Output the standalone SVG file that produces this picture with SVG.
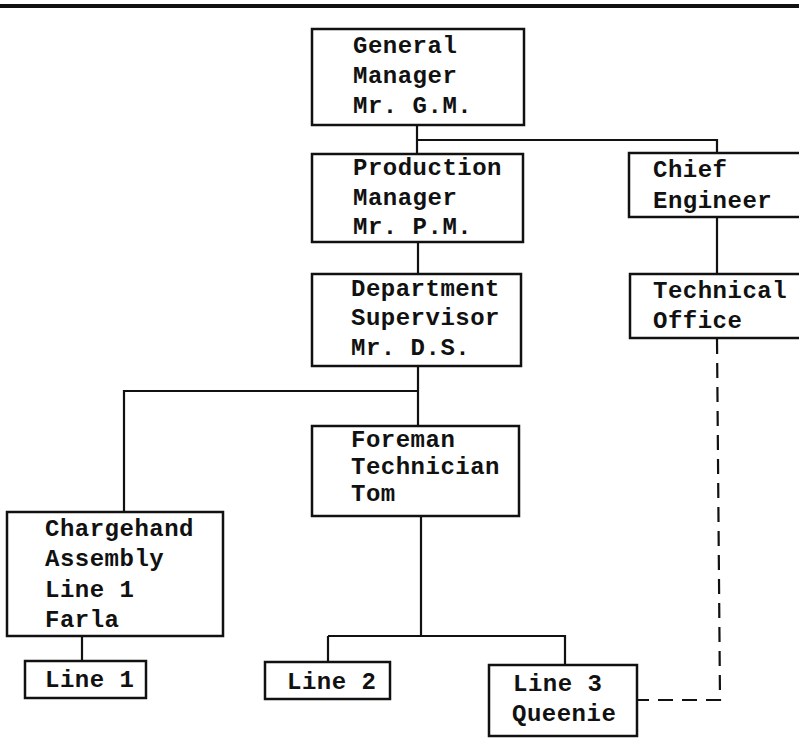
<svg xmlns="http://www.w3.org/2000/svg" width="799" height="756" viewBox="0 0 799 756">
<style>
.box{fill:#fff;stroke:#111;stroke-width:2.5}
.ln{fill:none;stroke:#111;stroke-width:2.2}
.dash{fill:none;stroke:#111;stroke-width:2.2;stroke-dasharray:15 9}
text{font-family:"Liberation Mono","Courier New",monospace;font-weight:bold;font-size:24px;letter-spacing:0.5px;fill:#111}
</style>
<rect x="0" y="4" width="799" height="4" fill="#111"/>
<g id="connectors">
<path class="ln" d="M417 125V154"/>
<path class="ln" d="M417 140H717V153"/>
<path class="ln" d="M717 217V274"/>
<path class="ln" d="M418 242V274"/>
<path class="ln" d="M418 366V426"/>
<path class="ln" d="M418 391H124V512"/>
<path class="ln" d="M421 516V636"/>
<path class="ln" d="M328 636H565V665"/>
<path class="ln" d="M328 636V662"/>
<path class="ln" d="M82 636V661"/>
<path class="dash" d="M717 339L720 700H637"/>
</g>
<g id="gm"><rect class="box" x="312" y="29" width="212" height="96"/>
<text x="353" y="53">General</text><text x="353" y="83">Manager</text><text x="353" y="113">Mr. G.M.</text></g>
<g id="pm"><rect class="box" x="312" y="154" width="211" height="88"/>
<text x="353" y="175">Production</text><text x="353" y="205">Manager</text><text x="353" y="234">Mr. P.M.</text></g>
<g id="chief"><rect class="box" x="629" y="153" width="180" height="64"/>
<text x="653" y="177">Chief</text><text x="653" y="208">Engineer</text></g>
<g id="tech"><rect class="box" x="630" y="274" width="180" height="64"/>
<text x="653" y="298">Technical</text><text x="653" y="328">Office</text></g>
<g id="ds"><rect class="box" x="312" y="274" width="209" height="92"/>
<text x="351" y="296">Department</text><text x="351" y="325">Supervisor</text><text x="351" y="355">Mr. D.S.</text></g>
<g id="foreman"><rect class="box" x="312" y="426" width="207" height="90"/>
<text x="351" y="447">Foreman</text><text x="351" y="474">Technician</text><text x="351" y="501">Tom</text></g>
<g id="chargehand"><rect class="box" x="7" y="512" width="216" height="124"/>
<text x="45" y="536">Chargehand</text><text x="45" y="566">Assembly</text><text x="45" y="597">Line 1</text><text x="45" y="627">Farla</text></g>
<g id="line1"><rect class="box" x="25" y="661" width="121" height="37"/>
<text x="45" y="687">Line 1</text></g>
<g id="line2"><rect class="box" x="265" y="662" width="125" height="37"/>
<text x="287" y="689">Line 2</text></g>
<g id="line3"><rect class="box" x="489" y="665" width="148" height="71"/>
<text x="513" y="691">Line 3</text><text x="512" y="721">Queenie</text></g>
</svg>
